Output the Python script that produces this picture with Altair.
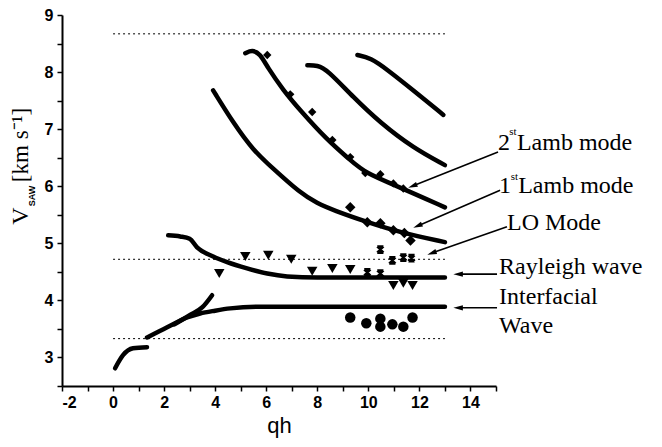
import altair as alt
import pandas as pd
import numpy as np

# ---------------- data ----------------
# calculated dispersion curves (qh, V in km/s)
lamb_a_x = [3.92, 4.71, 5.49, 6.24, 7.33, 8.0, 8.63, 9.96, 11.25, 13.0]
lamb_a_y = [7.68, 7.11, 6.63, 6.32, 5.88, 5.70, 5.58, 5.37, 5.19, 5.02]
lamb_b_x = [5.18, 5.45, 5.76, 6.04, 6.67, 7.33, 8.39, 9.29, 9.88, 11.25, 13.0]
lamb_b_y = [8.33, 8.39, 8.32, 8.09, 7.68, 7.33, 6.81, 6.46, 6.23, 5.98, 5.63]
lamb_c_x = [7.61, 8.0, 8.39, 9.41, 10.47, 11.76, 13.0]
lamb_c_y = [8.12, 8.12, 8.04, 7.56, 7.11, 6.67, 6.37]
lamb_d_x = [9.57, 10.08, 10.75, 11.76, 12.94]
lamb_d_y = [8.30, 8.25, 8.04, 7.68, 7.25]
rayl_x = [2.16, 2.63, 3.0, 3.29, 3.92, 4.47, 5.25, 6.04, 6.82, 8.0, 13.0]
rayl_y = [5.14, 5.12, 5.08, 4.93, 4.77, 4.67, 4.56, 4.47, 4.42, 4.40, 4.40]
intf1_x = [0.08, 0.39, 0.78, 1.33]
intf1_y = [2.81, 3.04, 3.16, 3.18]
intf2_x = [1.33, 2.12, 2.9, 3.41, 4.0, 4.59, 5.76, 13.0]
intf2_y = [3.35, 3.53, 3.70, 3.77, 3.82, 3.86, 3.89, 3.89]
intf3_x = [2.4, 3.0, 3.5, 3.88]
intf3_y = [3.58, 3.74, 3.88, 4.09]

# dotted reference levels
ref_levels = [8.67, 4.72, 3.33]
ref_start = 0.0
ref_end = 13.0

# measured points
dia_small_x = [6.04, 6.94, 7.80, 8.59, 9.29, 9.88, 10.47, 10.98, 11.37]
dia_small_y = [8.30, 7.61, 7.30, 6.81, 6.51, 6.23, 6.21, 6.05, 5.96]
dia_big_x = [9.29, 9.96, 10.47, 10.98, 11.41, 11.65]
dia_big_y = [5.63, 5.37, 5.35, 5.23, 5.18, 5.05]
tri_x = [4.16, 5.18, 6.08, 6.98, 7.80, 8.59, 9.29, 10.98, 11.37, 11.73]
tri_y = [4.47, 4.77, 4.79, 4.72, 4.51, 4.56, 4.54, 4.26, 4.30, 4.26]
star_x = [9.96, 10.47, 10.47, 10.94, 11.37, 11.69]
star_y = [4.49, 4.47, 4.89, 4.70, 4.75, 4.74]
circ_x = [9.29, 9.92, 10.47, 10.47, 10.94, 11.37, 11.73]
circ_y = [3.70, 3.60, 3.68, 3.54, 3.58, 3.54, 3.70]

# annotations: labels and arrows (data coordinates)
arrow_start_x = [15.08, 15.16, 15.43, 15.04, 15.04]
arrow_start_y = [6.60, 5.93, 5.29, 4.46, 3.87]
arrow_tip_x = [11.55, 11.75, 12.30, 13.32, 13.32]
arrow_tip_y = [5.97, 5.27, 4.80, 4.46, 3.87]

label_text = ["2", "st", "Lamb mode", "1", "st", "Lamb mode", "LO Mode",
              "Rayleigh wave", "Interfacial", "Wave"]
label_x = [15.08, 15.52, 15.82, 15.12, 15.58, 15.87, 15.43, 15.12, 15.12, 15.12]
label_y = [6.635, 6.90, 6.635, 5.88, 6.11, 5.88, 5.23, 4.46, 3.94, 3.43]
label_fs = [24, 11, 24, 24, 11, 24, 24, 24, 24, 24]

# ---------------- layout ----------------
X_DOMAIN = [-2, 15]
Y_DOMAIN = [2.5, 9]
W, H = 434, 371

X = alt.Scale(domain=X_DOMAIN, nice=False, zero=False)
Y = alt.Scale(domain=Y_DOMAIN, nice=False, zero=False)

def cdf(name, xs, ys):
    return pd.DataFrame({"curve": name, "qh": xs, "v": ys, "ord": range(len(xs))})

lamb_lines = pd.concat([
    cdf("a", lamb_a_x, lamb_a_y), cdf("b", lamb_b_x, lamb_b_y),
    cdf("c", lamb_c_x, lamb_c_y), cdf("d", lamb_d_x, lamb_d_y),
], ignore_index=True)
other_lines = pd.concat([
    cdf("r", rayl_x, rayl_y), cdf("i1", intf1_x, intf1_y),
    cdf("i2", intf2_x, intf2_y), cdf("i3", intf3_x, intf3_y),
], ignore_index=True)

XA = alt.Axis(
    values=list(range(-2, 16)),
    labelExpr="(datum.value % 2 == 0 && datum.value < 15) ? ('' + datum.value) : ''",
    tickSize=5,
    title="qh", titleFont="Liberation Sans", titleFontSize=22, titleFontWeight="normal",
    titleBaseline="alphabetic", titleY=46, titleColor="black",
    labelFont="Liberation Sans", labelFontSize=16, labelFontWeight="bold",
    labelColor="black", labelPadding=3, grid=False,
    domainColor="black", domainWidth=2, tickColor="black", tickWidth=1.5,
)
YA = alt.Axis(
    values=[2.5 + 0.5 * i for i in range(14)],
    labelExpr="(datum.value % 1 == 0) ? ('' + datum.value) : ''",
    tickSize=5,
    title="",
    labelFont="Liberation Sans", labelFontSize=16, labelFontWeight="bold",
    labelColor="black", labelPadding=4, grid=False,
    domainColor="black", domainWidth=2, tickColor="black", tickWidth=1.5,
)

def xe(field):
    return alt.X(field, scale=X, axis=XA)

def ye(field):
    return alt.Y(field, scale=Y, axis=YA)

curves_lamb = alt.Chart(lamb_lines).mark_line(
    color="black", strokeWidth=4.5, strokeCap="round", strokeJoin="round",
    interpolate="basis",
).encode(x=xe("qh:Q"), y=ye("v:Q"), detail="curve:N", order="ord:Q")

curves_other = alt.Chart(other_lines).mark_line(
    color="black", strokeWidth=4.5, strokeCap="round", strokeJoin="round",
    interpolate="monotone",
).encode(x=xe("qh:Q"), y=ye("v:Q"), detail="curve:N", order="ord:Q")

ref_df = pd.DataFrame({"y": ref_levels, "x0": ref_start, "x1": ref_end})
dotted = alt.Chart(ref_df).mark_rule(color="black", strokeWidth=1, strokeDash=[2, 3]).encode(
    x=xe("x0:Q"), x2="x1:Q", y=ye("y:Q"),
)

def pts(xs, ys, shape, size, filled=True, sw=0):
    df = pd.DataFrame({"qh": xs, "v": ys})
    return alt.Chart(df).mark_point(
        shape=shape, size=size, filled=filled, color="black", opacity=1, strokeWidth=sw,
    ).encode(x=xe("qh:Q"), y=ye("v:Q"))

p_dia_s = pts(dia_small_x, dia_small_y, "diamond", 70)
p_dia_b = pts(dia_big_x, dia_big_y, "diamond", 110)
p_tri = pts(tri_x, tri_y, "triangle-down", 110)
star_path = "M-0.8,-0.8L0.8,0.8M-0.8,0.8L0.8,-0.8M-0.8,-0.8L0.8,-0.8M-0.8,0.8L0.8,0.8"
p_star = pts(star_x, star_y, star_path, 60, filled=False, sw=2.5)
p_circ = pts(circ_x, circ_y, "circle", 110)

# arrows
kx = W / (X_DOMAIN[1] - X_DOMAIN[0])
ky = H / (Y_DOMAIN[1] - Y_DOMAIN[0])
sx, sy = np.array(arrow_start_x), np.array(arrow_start_y)
tx, ty = np.array(arrow_tip_x), np.array(arrow_tip_y)
dxp = (tx - sx) * kx
dyp = -(ty - sy) * ky
ln = np.hypot(dxp, dyp)
ang = (np.degrees(np.arctan2(dxp, -dyp)) + 360) % 360
back = 5.0
hx = tx - (dxp / ln) * back / kx
hy = ty + (dyp / ln) * back / ky
arr_df = pd.DataFrame({"sx": sx, "sy": sy, "tx": hx, "ty": hy, "ang": ang})

arrow_lines = alt.Chart(arr_df).mark_rule(color="black", strokeWidth=1.6).encode(
    x=xe("sx:Q"), y=ye("sy:Q"), x2="tx:Q", y2="ty:Q",
)
arrow_heads = alt.Chart(arr_df).mark_point(
    shape="M0,-1L0.55,1L-0.55,1Z", size=90, filled=True, color="black", opacity=1,
).encode(
    x=xe("tx:Q"), y=ye("ty:Q"),
    angle=alt.Angle("ang:Q", scale=None),
)

lab_df = pd.DataFrame({"t": label_text, "x": label_x, "y": label_y, "fs": label_fs})
labels = alt.Chart(lab_df).mark_text(
    align="left", baseline="alphabetic", font="Liberation Serif", color="black",
).encode(
    x=xe("x:Q"), y=ye("y:Q"),
    text="t:N", size=alt.Size("fs:Q", scale=None),
)

# y-axis title: V_SAW [km s^-1]
t_v = alt.Chart().mark_text(angle=270, font="Liberation Serif", fontSize=24,
                            align="center", baseline="middle", color="black").encode(
    x=alt.value(-41), y=alt.value(201), text=alt.value("V"))
t_saw = alt.Chart().mark_text(angle=270, font="Liberation Sans", fontSize=9, fontWeight="bold",
                              align="center", baseline="middle", color="black").encode(
    x=alt.value(-30), y=alt.value(181), text=alt.value("SAW"))
t_unit = alt.Chart().mark_text(angle=270, font="Liberation Serif", fontSize=23,
                               align="center", baseline="middle", color="black").encode(
    x=alt.value(-41), y=alt.value(130), text=alt.value("[km s\u207b\u00b9]"))

chart = alt.layer(
    curves_lamb, curves_other, dotted, p_dia_s, p_dia_b, p_tri, p_star, p_circ,
    arrow_lines, arrow_heads, labels, t_v, t_saw, t_unit,
).properties(
    width=W, height=H,
    padding={"left": 54, "top": 7, "right": 158, "bottom": 53},
    autosize=alt.AutoSizeParams(type="none"),
).configure_view(stroke=None)

chart.save("out.html", embed_options={"renderer": "svg", "actions": False})
